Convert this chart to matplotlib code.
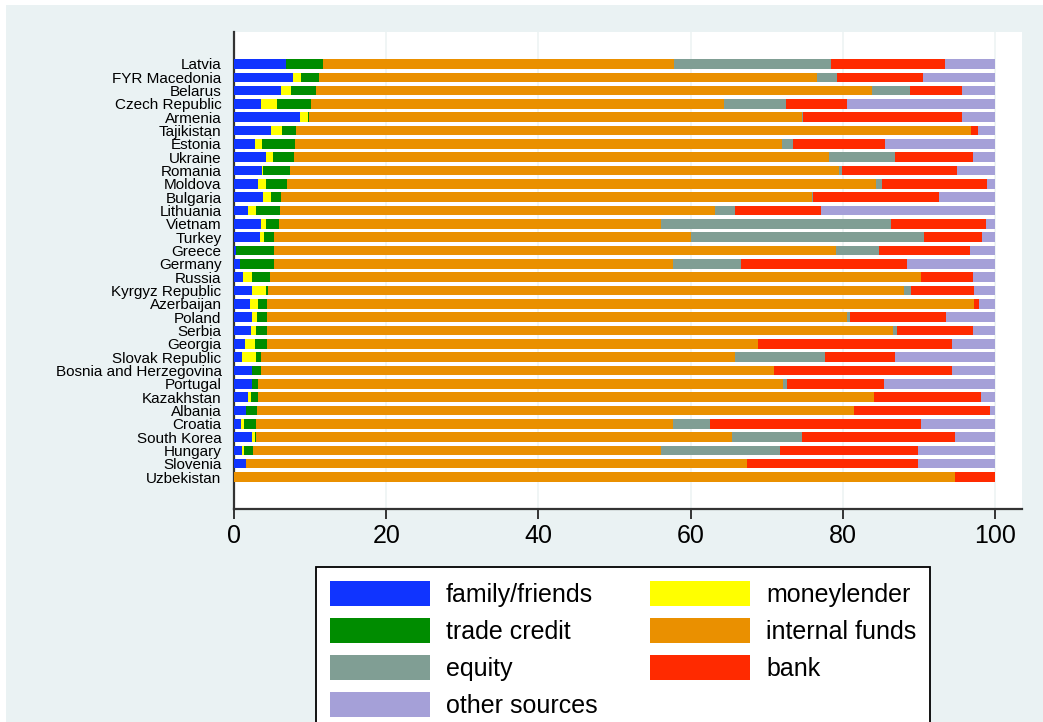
import matplotlib
matplotlib.use("Agg")
import matplotlib.pyplot as plt
from matplotlib.patches import Patch
import numpy as np

countries = ["Latvia", "FYR Macedonia", "Belarus", "Czech Republic", "Armenia",
             "Tajikistan", "Estonia", "Ukraine", "Romania", "Moldova", "Bulgaria",
             "Lithuania", "Vietnam", "Turkey", "Greece", "Germany", "Russia",
             "Kyrgyz Republic", "Azerbaijan", "Poland", "Serbia", "Georgia",
             "Slovak Republic", "Bosnia and Herzegovina", "Portugal", "Kazakhstan",
             "Albania", "Croatia", "South Korea", "Hungary", "Slovenia", "Uzbekistan"]

family_friends = [6.8, 7.8, 6.2, 3.6, 8.7, 4.9, 2.7, 4.2, 3.7, 3.1, 3.8,
                  1.9, 3.5, 3.4, 0.3, 0.8, 1.2, 2.3, 2.1, 2.3, 2.2, 1.4,
                  1.1, 2.3, 2.4, 1.8, 1.6, 0.9, 2.3, 1.0, 1.6, 0.0]
moneylender = [0.0, 1.0, 1.3, 2.0, 1.0, 1.4, 1.0, 0.9, 0.1, 1.1, 1.0,
               1.0, 0.7, 0.6, 0.0, 0.0, 1.1, 1.9, 1.0, 0.7, 0.7, 1.3,
               1.8, 0.0, 0.0, 0.4, 0.0, 0.4, 0.5, 0.3, 0.0, 0.0]
trade_credit = [4.9, 2.4, 3.3, 4.5, 0.2, 1.8, 4.3, 2.8, 3.6, 2.7, 1.4,
                3.1, 1.7, 1.2, 4.9, 4.4, 2.4, 0.3, 1.2, 1.4, 1.5, 1.6,
                0.7, 1.3, 0.8, 1.0, 1.4, 1.6, 0.1, 1.2, 0.0, 0.0]
internal_funds = [46.1, 65.4, 73.1, 54.3, 64.7, 88.7, 64.0, 70.3, 72.1, 77.5, 69.7,
                  57.2, 50.2, 54.9, 73.9, 52.5, 85.6, 83.6, 92.9, 76.2, 82.2, 64.6,
                  62.3, 67.4, 68.9, 80.9, 78.5, 54.8, 62.5, 53.6, 65.8, 94.8]
equity = [20.6, 2.6, 4.9, 8.1, 0.2, 0.0, 1.5, 8.6, 0.4, 0.7, 0.2,
          2.6, 30.3, 30.6, 5.7, 8.9, 0.0, 0.8, 0.0, 0.3, 0.5, 0.0,
          11.7, 0.0, 0.6, 0.0, 0.0, 4.9, 9.3, 15.6, 0.0, 0.0]
bank = [15.0, 11.4, 6.8, 8.1, 20.9, 1.0, 12.0, 10.3, 15.1, 13.8, 16.5,
        11.3, 12.4, 7.6, 11.9, 21.9, 6.8, 8.3, 0.7, 12.6, 10.0, 25.5,
        9.2, 23.3, 12.7, 14.1, 17.8, 27.7, 20.0, 18.2, 22.5, 5.2]
other_sources = [6.6, 9.4, 4.4, 19.4, 4.3, 2.2, 14.5, 2.9, 5.0, 1.1, 7.4,
                 22.9, 1.2, 1.7, 3.3, 11.5, 2.9, 2.8, 2.1, 6.5, 2.9, 5.6,
                 13.2, 5.7, 14.6, 1.8, 0.7, 9.7, 5.3, 10.1, 10.1, 0.0]

series = [
    ("family/friends", family_friends, "#1034FF"),
    ("moneylender", moneylender, "#FFFF00"),
    ("trade credit", trade_credit, "#008C00"),
    ("internal funds", internal_funds, "#EA9000"),
    ("equity", equity, "#809E94"),
    ("bank", bank, "#FF2A00"),
    ("other sources", other_sources, "#A5A0D8"),
]

W, H = 1043, 722
fig = plt.figure(figsize=(W / 100, H / 100), dpi=100)
fig.patch.set_facecolor("white")

bg = fig.add_axes([6 / W, 0, 1 - 6 / W, 1 - 5 / H], zorder=-10)
bg.set_facecolor("#EAF2F3")
bg.set_xticks([])
bg.set_yticks([])
for s in bg.spines.values():
    s.set_visible(False)

ax = fig.add_axes([234 / W, 1 - 509 / H, (1022 - 234) / W, (509 - 32) / H], zorder=1)
ax.set_facecolor("white")

y = np.arange(len(countries))
left = np.zeros(len(countries))
handles = {}
for name, vals, col in series:
    v = np.array(vals, dtype=float)
    ax.barh(y, v, left=left, height=0.72, color=col, edgecolor="none", zorder=3)
    left += v
    handles[name] = Patch(facecolor=col, edgecolor="none")

ax.set_ylim(len(countries) - 1 + 2.4, -2.4)
ax.set_xlim(0, 103.55)
ax.set_yticks(y)
ax.set_yticklabels(countries, fontsize=11, family="Liberation Sans")
ax.tick_params(axis="y", length=0, pad=9)
ax.set_xticks([0, 20, 40, 60, 80, 100])
ax.set_xticklabels(["0", "20", "40", "60", "80", "100"], fontsize=18, family="Liberation Sans")
ax.tick_params(axis="x", length=7, width=1.4, color="#333333", pad=4, direction="out")
ax.grid(axis="x", color="#EDF3F3", linewidth=1.2, zorder=0)
ax.set_axisbelow(True)
for s in ["top", "right"]:
    ax.spines[s].set_visible(False)
for s in ["left", "bottom"]:
    ax.spines[s].set_color("#333333")
    ax.spines[s].set_linewidth(1.6)

order = ["family/friends", "trade credit", "equity", "other sources",
         "moneylender", "internal funds", "bank"]
leg = fig.legend([handles[k] for k in order], order, ncol=2,
                 loc="upper left", bbox_to_anchor=(316 / W, 1 - 567 / H),
                 bbox_transform=fig.transFigure, borderaxespad=0,
                 prop={"family": "Liberation Sans", "size": 18},
                 handlelength=4.0, handleheight=1.15, handletextpad=0.65,
                 columnspacing=2.1, labelspacing=0.45, borderpad=0.55,
                 fancybox=False, framealpha=1, edgecolor="black")
leg.get_frame().set_linewidth(1.3)
leg.set_zorder(5)

fig.savefig("out.png", dpi=100)
